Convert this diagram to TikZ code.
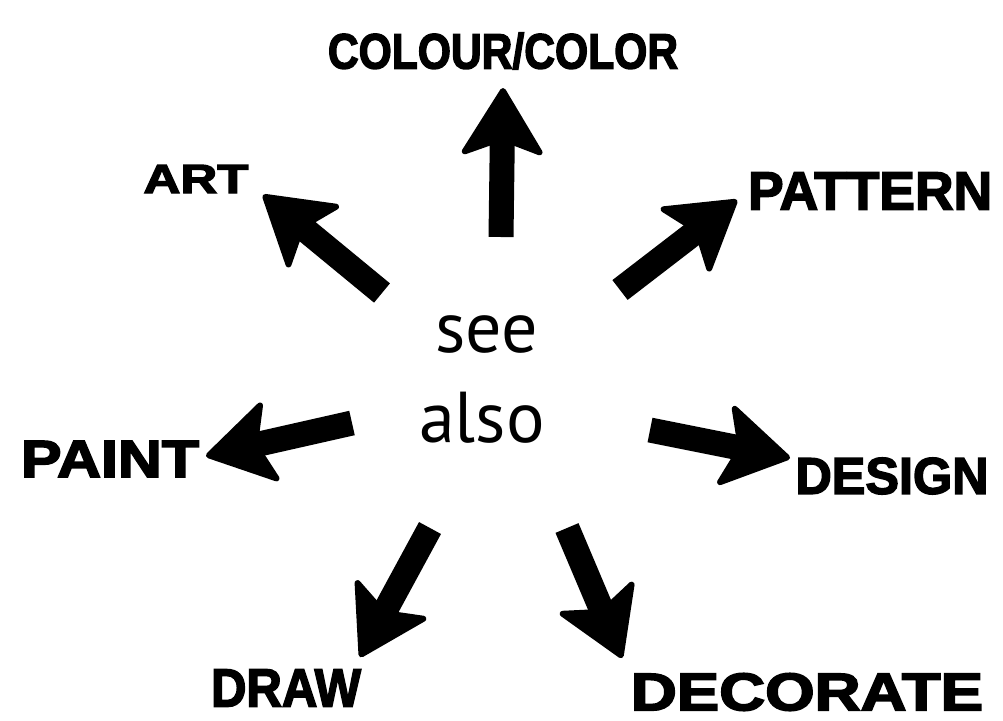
\documentclass[tikz,border=0pt]{standalone}
\usepackage{fontspec}
\usepackage{graphicx}
\usetikzlibrary{arrows.meta}
\newfontfamily\labfont{Liberation Sans Bold}[FakeBold=3]
\newfontfamily\seefont{PT Sans}
\newcommand\lbl[3]{\resizebox{#1pt}{#2pt}{\labfont #3}}
\tikzset{
  lab/.style={inner sep=0pt, outer sep=0pt, anchor=center},
  seetext/.style={inner sep=0pt, anchor=base, font=\seefont\fontsize{72}{90}\selectfont},
  fat/.style={line width=25pt, line cap=butt,
    -{Stealth[length=72pt,width=88pt,inset=16pt,round,line width=6pt]}}
}
\begin{document}
\begin{tikzpicture}[x=1pt,y=-1pt]
\path[use as bounding box, fill=white] (0,0) rectangle (1003,720);
% labels
\node[lab] (colour)   at (503,51)  {\lbl{350}{36}{COLOUR/COLOR}};
\node[lab] (art)      at (196,179) {\lbl{105}{28}{ART}};
\node[lab] (pattern)  at (870,191) {\lbl{244}{37}{PATTERN}};
\node[lab] (paint)    at (110,459) {\lbl{178}{36}{PAINT}};
\node[lab] (design)   at (892,476) {\lbl{193}{36}{DESIGN}};
\node[lab] (drawl)    at (286,688) {\lbl{150}{37}{DRAW}};
\node[lab] (decorate) at (807,692) {\lbl{352}{37}{DECORATE}};
% centre text
\node[seetext] (see)  at (487,352) {see};
\node[seetext] (also) at (482,442) {also};
% arrow tails and tips
\coordinate (t1) at (501,237); \coordinate (h1) at (503,88);
\coordinate (t2) at (382,293); \coordinate (h2) at (263,195);
\coordinate (t3) at (620,290); \coordinate (h3) at (737,200);
\coordinate (t4) at (352,423); \coordinate (h4) at (206,456);
\coordinate (t5) at (650,430); \coordinate (h5) at (790,458);
\coordinate (t6) at (430,528); \coordinate (h6) at (360,657);
\coordinate (t7) at (567,528); \coordinate (h7) at (622,658);
\draw[fat] (t1) -- (h1);
\draw[fat] (t2) -- (h2);
\draw[fat] (t3) -- (h3);
\draw[fat] (t4) -- (h4);
\draw[fat] (t5) -- (h5);
\draw[fat] (t6) -- (h6);
\draw[fat] (t7) -- (h7);
\end{tikzpicture}
\end{document}
